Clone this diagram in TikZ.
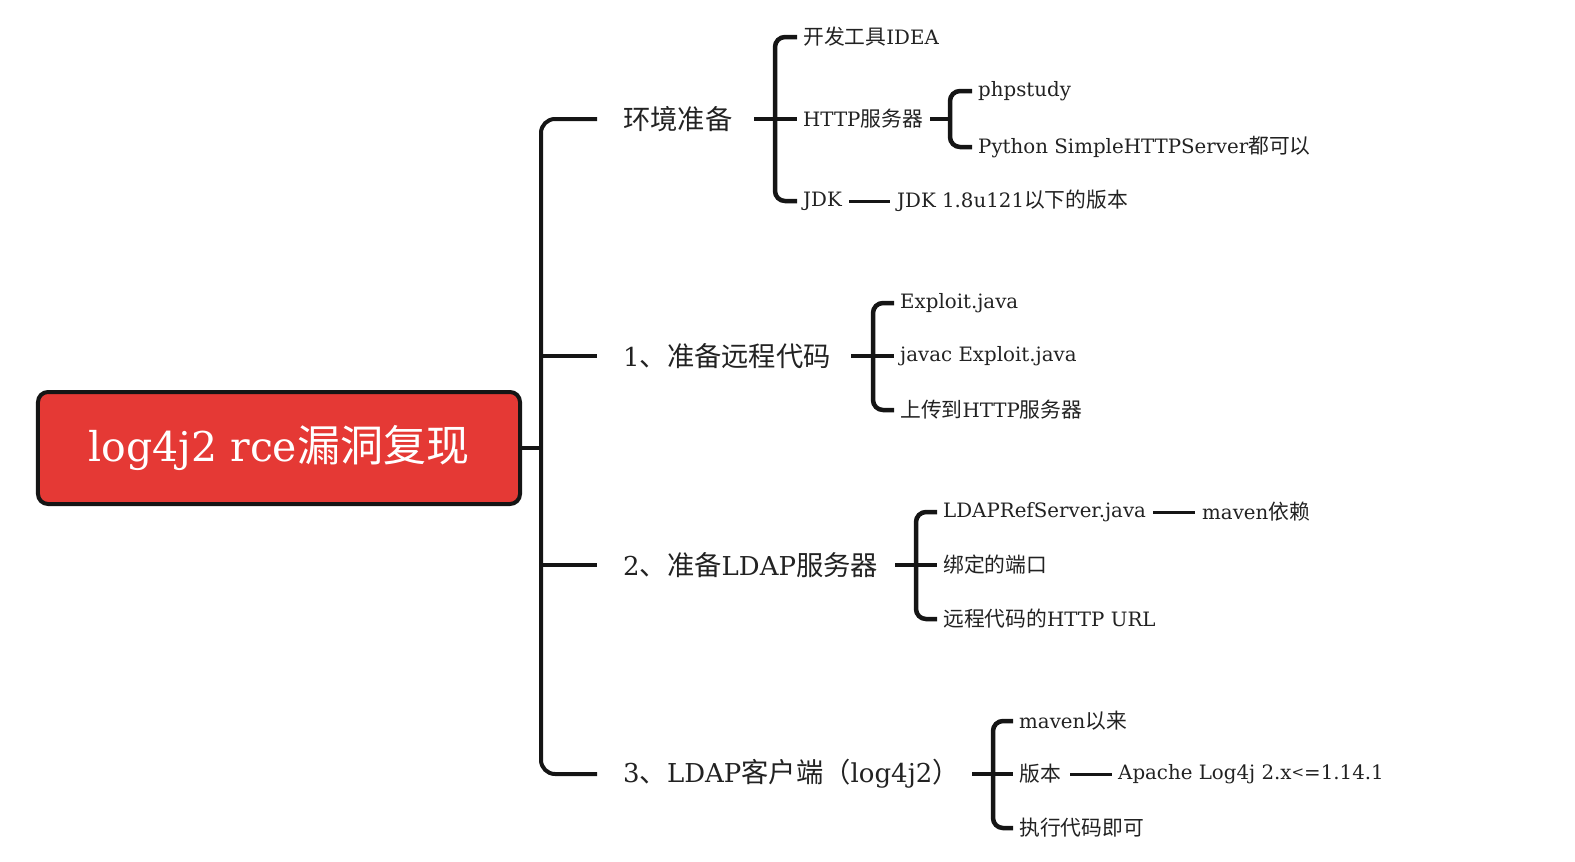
\documentclass[tikz,border=0pt]{standalone}
\usepackage{fontspec}
\setmainfont{DejaVu Serif}
\newfontfamily\zh[Scale=1.05]{Noto Sans CJK SC}
\definecolor{ln}{HTML}{151515}
\definecolor{txt}{HTML}{222222}
\definecolor{rootred}{HTML}{E53935}
\tikzset{
 lbl/.style={anchor=west, inner sep=0pt, text=txt},
 lone/.style={lbl, font=\fontsize{26bp}{30bp}\selectfont},
 ltwo/.style={lbl, font=\fontsize{19.8bp}{23bp}\selectfont},
 rootbox/.style={draw=ln, line width=4bp, fill=rootred, rounded corners=10bp, minimum width=482bp, minimum height=112bp, text=white, font=\fontsize{41bp}{48bp}\selectfont, inner sep=0pt},
 br/.style={draw=ln, line width=4.5bp, rounded corners=10bp},
 tk/.style={draw=ln, line width=4bp, rounded corners=14bp},
 thin/.style={draw=ln, line width=3bp},
}
\begin{document}
\begin{tikzpicture}[x=1bp,y=-1bp]
\useasboundingbox (0,0) rectangle (1575,861);
% root
\node[rootbox] (root) at (279,448) {log4j2 rce{\zh 漏洞复现}};
\coordinate (tr) at (541,448);
% level 1
\node[lone] (A) at (623,119) {{\zh 环境准备}};
\node[lone] (B) at (623,356) {1{\zh 、准备远程代码}};
\node[lone] (C) at (623,565) {2{\zh 、准备}LDAP{\zh 服务器}};
\node[lone] (D) at (623,774) {3{\zh 、}LDAP{\zh 客户端（}log4j2{\zh ）}};
% A children
\node[ltwo] (A1) at (803,37) {{\zh 开发工具}IDEA};
\node[ltwo] (A2) at (803,119) {HTTP{\zh 服务器}};
\node[ltwo] (A3) at (803,201) {JDK};
\node[ltwo] (A21) at (978,91) {phpstudy};
\node[ltwo] (A22) at (978,147) {Python SimpleHTTPServer{\zh 都可以}};
\node[ltwo] (A31) at (897,201) {JDK 1.8u121{\zh 以下的版本}};
% B children
\node[ltwo] (B1) at (900,303) {Exploit.java};
\node[ltwo] (B2) at (900,356) {javac Exploit.java};
\node[ltwo] (B3) at (900,410) {{\zh 上传到}HTTP{\zh 服务器}};
% C children
\node[ltwo] (C1) at (943,512) {LDAPRefServer.java};
\node[ltwo] (C2) at (943,565) {{\zh 绑定的端口}};
\node[ltwo] (C3) at (943,619) {{\zh 远程代码的}HTTP URL};
\node[ltwo] (C11) at (1202,512) {maven{\zh 依赖}};
% D children
\node[ltwo] (D1) at (1019,721) {maven{\zh 以来}};
\node[ltwo] (D2) at (1019,774) {{\zh 版本}};
\node[ltwo] (D3) at (1019,828) {{\zh 执行代码即可}};
\node[ltwo] (D21) at (1118,774) {Apache Log4j 2.x{\fontsize{15bp}{18bp}\selectfont\raisebox{1.5bp}{<}}=1.14.1};
% trunk
\draw[tk] (root.east) -- (tr);
\draw[tk] ([xshift=-26bp]A.west) -| (tr) |- ([xshift=-26bp]D.west);
\draw[tk] (541,356) -- ([xshift=-26bp]B.west);
\draw[tk] (541,565) -- ([xshift=-26bp]C.west);
% A bracket
\coordinate (bA) at (775,119);
\draw[br] ([xshift=-6bp]A1.west) -| (bA) |- ([xshift=-6bp]A3.west);
\draw[br] ([xshift=131bp]A.west) -- ([xshift=-6bp]A2.west);
% HTTP bracket
\coordinate (bA2) at (950,119);
\draw[br] ([xshift=-6bp]A21.west) -| (bA2) |- ([xshift=-6bp]A22.west);
\draw[br] ([xshift=127bp]A2.west) -- (bA2);
% JDK line
\draw[thin] ([xshift=46bp]A3.west) -- ([xshift=-7bp]A31.west);
% B bracket
\coordinate (bB) at (873,356);
\draw[br] ([xshift=-6bp]B1.west) -| (bB) |- ([xshift=-6bp]B3.west);
\draw[br] ([xshift=228bp]B.west) -- ([xshift=-6bp]B2.west);
% C bracket
\coordinate (bC) at (916,565);
\draw[br] ([xshift=-6bp]C1.west) -| (bC) |- ([xshift=-6bp]C3.west);
\draw[br] ([xshift=272bp]C.west) -- ([xshift=-6bp]C2.west);
\draw[thin] ([xshift=210bp]C1.west) -- ([xshift=-7bp]C11.west);
% D bracket
\coordinate (bD) at (993,774);
\draw[br] ([xshift=-6bp]D1.west) -| (bD) |- ([xshift=-6bp]D3.west);
\draw[br] ([xshift=349bp]D.west) -- ([xshift=-6bp]D2.west);
\draw[thin] ([xshift=51bp]D2.west) -- ([xshift=-6bp]D21.west);
\end{tikzpicture}
\end{document}
